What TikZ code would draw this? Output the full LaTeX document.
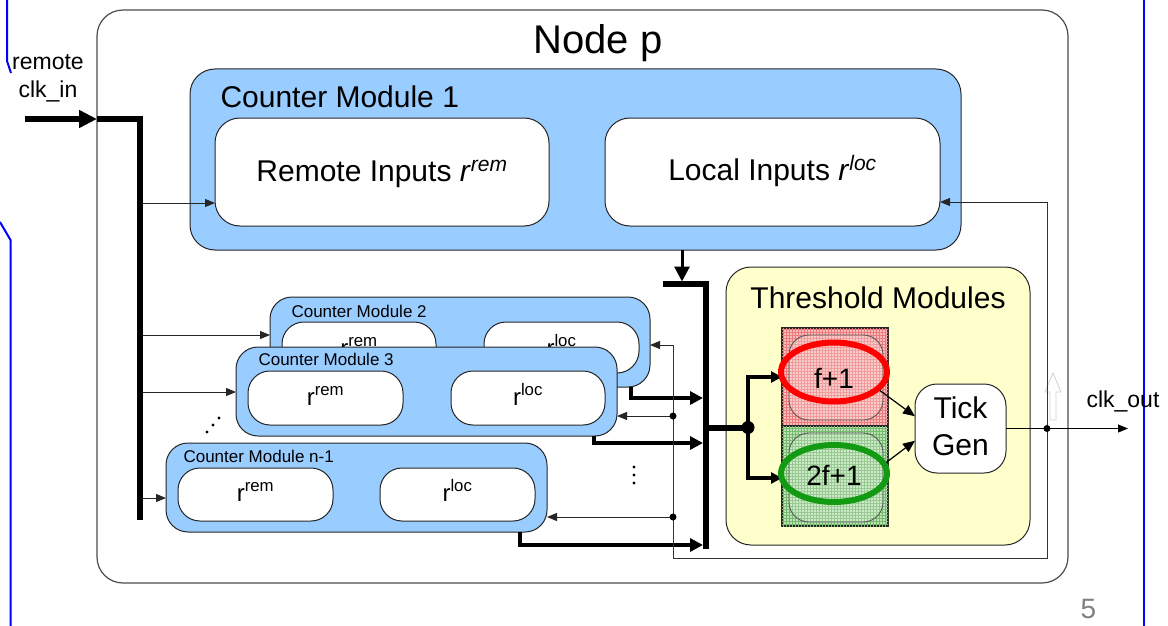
\documentclass[tikz,border=0pt]{standalone}
\usepackage{fontspec}
\setmainfont{Liberation Sans}
\usetikzlibrary{arrows.meta,patterns.meta,shapes.geometric}
\definecolor{cmblue}{HTML}{99CCFF}
\definecolor{thryellow}{HTML}{FFFFCC}
\definecolor{slideblue}{HTML}{0000FF}
\definecolor{hatchred}{HTML}{F8BCBC}
\definecolor{hatchgreen}{HTML}{BEE2B8}
\definecolor{gridred}{HTML}{EC7A7A}
\definecolor{gridgreen}{HTML}{74B86B}
\definecolor{ringgreen}{HTML}{139A13}
\newcommand{\pxfont}[2]{\fontsize{#1}{#2}\selectfont}
\begin{document}
\begin{tikzpicture}[x=1pt,y=-1pt,
  frame/.style={draw=black!70, line width=1.2pt, rounded corners=26pt, inner sep=0pt, outer sep=0pt},
  module/.style={draw=black!85, line width=1pt, fill=cmblue, inner sep=0pt, outer sep=0pt},
  slot/.style={draw=black!85, line width=1pt, fill=white, inner sep=0pt, outer sep=0pt},
  thinarrow/.style={draw=black!85, line width=1pt, -{Triangle[length=10pt,width=8pt]}},
  feed/.style={draw=black!80, line width=1pt},
  outarrow/.style={line width=4pt, -{Triangle[length=13pt,width=13pt]}},
  busline/.style={line width=6pt},
  jdot/.style={circle, fill=black, inner sep=0pt, minimum size=7pt},
  sdot/.style={circle, fill=black, inner sep=0pt, minimum size=3pt},
  ring/.style={ellipse, line width=6pt, inner sep=0pt, minimum width=106pt},
  checked/.style 2 args={draw=black!85, line width=1.5pt, inner sep=0pt,
      preaction={fill=#1},
      pattern={Hatch[distance=3pt, angle=0, line width=0.9pt]}, pattern color=#2,
      postaction={pattern={Hatch[distance=3pt, angle=90, line width=0.9pt]}, pattern color=#2}},
  big/.style={font=\pxfont{30}{37}},
  small/.style={font=\pxfont{17}{20}},
  mid/.style={font=\pxfont{24}{28}},
  lbl/.style={font=\pxfont{23}{28}}
]
\useasboundingbox (0,0) rectangle (1168,626);
\fill[white] (0,0) rectangle (1168,626);

% slide border lines
\draw[slideblue, line width=2pt] (7,0) -- (7,61) -- (11,73);
\draw[slideblue, line width=2pt] (0,222) -- (10.5,240) -- (10.5,626);
\draw[slideblue, line width=2pt] (1144,0) -- (1144,626);

% node frame
\node[frame, minimum width=971pt, minimum height=573pt] (nodep) at (582.5,296.5) {};
\node[anchor=base, font=\pxfont{40}{48}] (title) at (598,54) {Node p};

% counter module 1
\node[module, rounded corners=25pt, minimum width=771pt, minimum height=181pt] (cm1) at (575.5,159.5) {};
\node[big, anchor=base west] (cm1lab) at (217,107) {Counter Module 1};
\node[slot, rounded corners=25pt, minimum width=334pt, minimum height=108pt] (remin) at (382,172) {};
\node[slot, rounded corners=25pt, minimum width=335pt, minimum height=108pt] (locin) at (772.5,172) {};
\node[big, anchor=base] at (382,181) {Remote Inputs \textit{r}\textsuperscript{\textit{rem}}};
\node[big, anchor=base] at (772.5,180) {Local Inputs \textit{r}\textsuperscript{\textit{loc}}};

% threshold modules
\node[module, fill=thryellow, rounded corners=25pt, minimum width=304pt, minimum height=278pt] (thr) at (878,406) {};
\node[big, anchor=base] (thrlab) at (878,308) {Threshold Modules};
\node[checked={hatchred}{gridred}, minimum width=106pt, minimum height=98pt] (fsq) at (835,377) {};
\node[checked={hatchgreen}{gridgreen}, minimum width=106pt, minimum height=100pt] (gsq) at (835,476) {};
\node[draw=black!65, line width=0.9pt, fill=white, fill opacity=0.25, rounded corners=20pt, minimum width=94pt, minimum height=85pt] (fin) at (836,377.5) {};
\node[draw=black!65, line width=0.9pt, fill=white, fill opacity=0.25, rounded corners=20pt, minimum width=94pt, minimum height=89pt] (gin) at (836,477.5) {};

% central bus and splits into the thresholds
\coordinate (tbar) at (663,284);
\coordinate (bustop) at (706,284);
\coordinate (busbot) at (706,549);
\coordinate (busmid) at (706,427.5);
\coordinate (split) at (748,427.5);
\coordinate (fint) at (782,377);
\coordinate (gint) at (782,478);
\draw[line width=4pt, -{Triangle[length=11pt,width=11pt]}] (split) |- (fint);
\draw[line width=4pt, -{Triangle[length=11pt,width=11pt]}] (split) |- (gint);
\draw[line width=6pt] (busmid) -- (split);
\node[jdot, minimum size=13pt] at (split) {};

\node[ring, draw=red, minimum height=59pt] (fell) at (834,372) {};
\node[ring, draw=ringgreen, minimum height=57pt] (gell) at (834,473.5) {};
\node[font=\pxfont{28}{30}, anchor=base] (fone) at (834,388) {f+1};
\node[font=\pxfont{28}{30}, anchor=base] (gone) at (834,485) {2f+1};

\node[slot, rounded corners=22pt, minimum width=91pt, minimum height=89pt] (tick) at (960.5,428.5) {};
\node[big, align=center] (ticklab) at (960.5,426) {Tick\\Gen};
\draw[line width=1.2pt, -{Triangle[length=12pt,width=10pt]}] (fell.-22) -- (tick.165);
\draw[line width=1.2pt, -{Triangle[length=12pt,width=10pt]}] (gell.12) -- (tick.195);

% clock output
\coordinate (clkout) at (1128,428.5);
\coordinate (fbtap) at (1047,428.5);
\draw[thinarrow, draw=black] (tick.east) -- (clkout);
\node[lbl, anchor=base west] (clklab) at (1083,407) {clk\_out};
\draw[gray!35, line width=0.8pt] (1050,420) -- (1050,392) -- (1045,392) -- (1053,373)
  -- (1061,392) -- (1056,392) -- (1056,420) -- cycle;

% output of module 1 onto the bus
\coordinate (o1) at (682,250);
\draw[line width=3pt, -{Triangle[length=15pt,width=15pt]}, shorten >=2.5pt] (o1) -- (o1 |- tbar);
\draw[busline] (tbar) -- (bustop) -- (busbot);

% input bus
\coordinate (clkin) at (25,119);
\coordinate (busin) at (97,119);
\coordinate (buscorner) at (140,119);
\coordinate (busend) at (140,520);
\node[lbl, align=center] (clkinlab) at (48,78) {remote\\clk\_in};
\coordinate (b1) at (140,203);
\coordinate (b2) at (140,335);
\coordinate (b3) at (140,392);
\coordinate (bn) at (140,498);

% counter modules 2, 3 and n-1
\node[module, rounded corners=22pt, minimum width=380pt, minimum height=90pt] (cm2) at (460,342) {};
\node[small, anchor=base west] at (288,317) {Counter Module 2};
\node[slot, rounded corners=22pt, minimum width=154pt, minimum height=51pt] (cm2r) at (359,347.5) {};
\node[slot, rounded corners=22pt, minimum width=155pt, minimum height=51pt] (cm2l) at (561.5,347.5) {};
\node[mid, anchor=base] at (359,356) {r\textsuperscript{rem}};
\node[mid, anchor=base] at (561.5,356) {r\textsuperscript{loc}};

\node[module, rounded corners=22pt, minimum width=381pt, minimum height=89pt] (cm3) at (426.5,391.5) {};
\node[small, anchor=base west] at (255,365) {Counter Module 3};
\node[slot, rounded corners=22pt, minimum width=155pt, minimum height=54pt] (cm3r) at (325.5,398) {};
\node[slot, rounded corners=22pt, minimum width=154pt, minimum height=54pt] (cm3l) at (528,398) {};
\node[mid, anchor=base] at (325.5,405) {r\textsuperscript{rem}};
\node[mid, anchor=base] at (528,405) {r\textsuperscript{loc}};

\node[module, rounded corners=22pt, minimum width=381pt, minimum height=89pt] (cmn) at (356.5,487.5) {};
\node[small, anchor=base west] at (180,462) {Counter Module n-1};
\node[slot, rounded corners=22pt, minimum width=155pt, minimum height=53pt] (cmnr) at (255.5,494.5) {};
\node[slot, rounded corners=22pt, minimum width=155pt, minimum height=53pt] (cmnl) at (457.5,494.5) {};
\node[mid, anchor=base] at (255.5,501) {r\textsuperscript{rem}};
\node[mid, anchor=base] at (457.5,501) {r\textsuperscript{loc}};

% bus taps into the remote inputs
\draw[thinarrow] (b1) -- (b1 -| remin.west);
\draw[thinarrow] (b2) -- (b2 -| cm2.west);
\draw[thinarrow] (b3) -- (b3 -| cm3.west);
\draw[thinarrow] (bn) -- (bn -| cmn.west);
\draw[line width=6pt, -{Triangle[length=18pt,width=17pt]}] (clkin) -- (busin);
\draw[busline] (busin) -- (buscorner) -- (busend);

% module outputs onto the central bus
\coordinate (o2) at (631,387);
\coordinate (o3) at (594,436);
\coordinate (on) at (520,532);
\coordinate (e2) at (703,398);
\coordinate (e3) at (703,443);
\coordinate (en) at (703,545);
\draw[outarrow] (o2) |- (e2);
\draw[outarrow] (o3) |- (e3);
\draw[outarrow] (on) |- (en);

% local feedback of the produced tick
\coordinate (fbtop) at (673,345);
\coordinate (fb3) at (673,416);
\coordinate (fbn) at (673,517);
\coordinate (fbbot) at (673,558);
\coordinate (fbright) at (1047,558);
\coordinate (fbloc) at (1047,202);
\draw[feed] (fbtop) -- (fbbot) -- (fbright) -- (fbloc);
\draw[thinarrow] (fbloc) -- (fbloc -| locin.east);
\draw[thinarrow] (fbtop) -- (fbtop -| cm2.east);
\draw[thinarrow] (fb3) -- (fb3 -| cm3.east);
\draw[thinarrow] (fbn) -- (fbn -| cmn.east);
\node[sdot, minimum size=7pt] at (fb3) {};
\node[sdot, minimum size=7pt] at (fbn) {};
\node[sdot, minimum size=7pt] at (fbtap) {};

% ellipsis marks
\foreach \p in {(207,432),(213,425),(219,418)} \fill \p circle (1.6);
\foreach \p in {(634,467),(634,475),(634,483)} \fill \p circle (1.6);

% page number
\node[anchor=base, text=gray, font=\pxfont{28}{30}] (pnum) at (1088.5,618) {5};
\end{tikzpicture}
\end{document}
